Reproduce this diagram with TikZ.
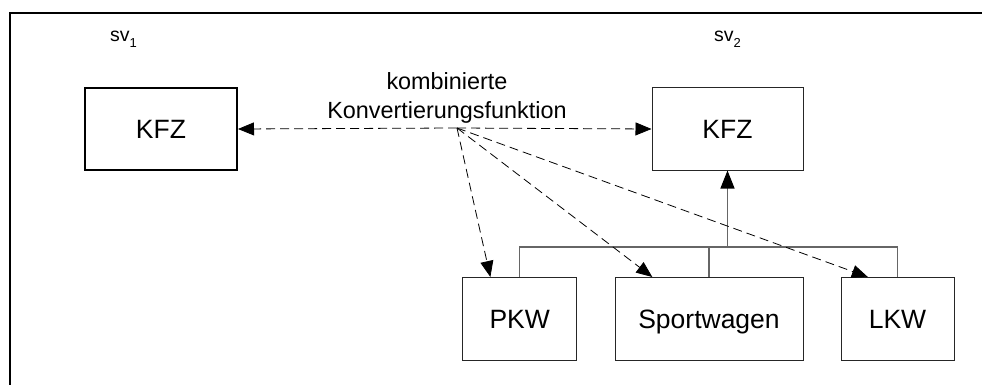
\documentclass[tikz,border=0pt]{standalone}
\usepackage{fontspec}
\setmainfont{Liberation Sans}
\usetikzlibrary{arrows.meta,calc}

\begin{document}
\begin{tikzpicture}[x=1pt,y=-1pt,
  box/.style={draw=black!85, line width=1pt, rectangle, inner sep=0pt,
    minimum height=83pt, text depth=0pt, font=\fontsize{26.5}{30}\selectfont},
  bigtip/.style={-{Triangle[length=16pt,width=13pt,color=black]}},
  conv/.style={bigtip, dash pattern=on 9pt off 5pt, line width=0.8pt},
  tree/.style={draw=black!60, line width=1.2pt},
  svlabel/.style={anchor=base west, inner sep=0pt, font=\fontsize{19.5}{21}\selectfont}
]
\useasboundingbox (0,0) rectangle (982,385);

% open frame (left and top edges only)
\draw[line width=2pt] (9.5,400) -- (9.5,12.7) -- (1000,12.7);

% view labels
\node[svlabel] (sv1) at (110,42) {sv\raisebox{-6pt}{\fontsize{13}{14}\selectfont 1}};
\node[svlabel] (sv2) at (714,42) {sv\raisebox{-6pt}{\fontsize{13}{14}\selectfont 2}};

% classes
\node[box, draw=black, line width=2pt, minimum width=152pt, minimum height=82pt] (kfzA) at (161,129) {KFZ};
\node[box, minimum width=151pt, minimum height=82pt] (kfzB) at (727.5,129) {KFZ};
\node[box, minimum width=114pt] (pkw) at (519.7,319) {PKW};
\node[box, minimum width=188pt] (sport) at (709,319) {Sportwagen};
\node[box, minimum width=113pt] (lkw) at (897.5,319) {LKW};

% inheritance tree
\coordinate (bus) at (728,247);
\draw[tree] (pkw.north) -- (pkw.north |- bus) -- (lkw.north |- bus) -- (lkw.north);
\draw[tree] (sport.north) -- (sport.north |- bus);
\draw[tree, -{Triangle[length=18pt,width=14pt,color=black]}] (kfzB.south |- bus) -- (kfzB.south);

% combined conversion function
\node[anchor=north, inner sep=0pt, align=center, font=\fontsize{23.4}{29}\selectfont] (lbl) at (447,72)
  {kombinierte\\Konvertierungsfunktion};
\coordinate (hub) at (457,128);
\draw[conv] (hub) -- (kfzA.east);
\draw[conv] (hub) -- (kfzB.west);
\draw[conv] (hub) -- ($(pkw.north west)!0.245!(pkw.north east)$);
\draw[conv] (hub) -- ($(sport.north west)!0.2!(sport.north east)$);
\draw[conv] (hub) -- ($(lkw.north west)!0.24!(lkw.north east)$);
\end{tikzpicture}
\end{document}
